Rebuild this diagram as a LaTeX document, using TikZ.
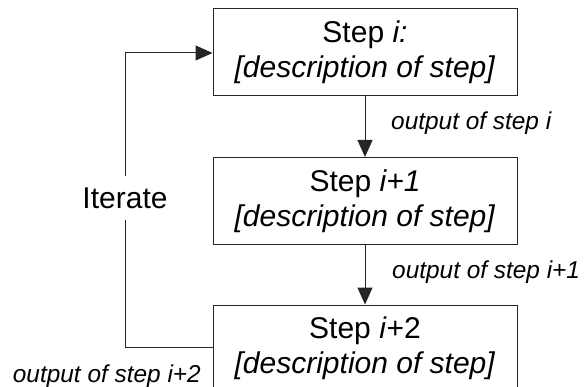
\documentclass[tikz,border=0pt]{standalone}
\usepackage{fontspec}
\setmainfont{Liberation Sans}
\usetikzlibrary{arrows.meta}
\begin{document}
\begin{tikzpicture}[x=1pt,y=-1pt,
  stepbox/.style={draw=black!85, line width=1pt, minimum width=304pt, minimum height=87pt,
    inner sep=0pt, align=center, font=\fontsize{30}{35}\selectfont},
  lbl/.style={inner sep=0pt, font=\fontsize{24.4}{28}\selectfont\itshape},
  conn/.style={draw=black!85, line width=1pt, -{Triangle[length=17pt,width=15pt]}},
  loopline/.style={draw=black!85, line width=1pt}]
\useasboundingbox (0,0) rectangle (585,387);
\fill[white] (0,0) rectangle (585,387);
\node[stepbox] (s1) at (365,52.5) {Step \textit{i:}\\\textit{[description of step]}};
\node[stepbox] (s2) at (365,201) {Step \textit{i+1}\\\textit{[description of step]}};
\node[stepbox] (s3) at (365,348.5) {Step \textit{i}+2\\\textit{[description of step]}};
\draw[conn] (s1) -- (s2);
\draw[conn] (s2) -- (s3);
\coordinate (lb) at (125,347);
\coordinate (lt) at (125,53);
\draw[conn] (s3.west |- lb) -- (lb) -- (lt) -- (s1.west |- lt);
\node[fill=white, inner sep=0pt, minimum height=44pt, font=\fontsize{30}{35}\selectfont] (it) at (125,198) {Iterate};
\node[lbl, anchor=base west] (o1) at (391,130) {output of step i};
\node[lbl, anchor=base west] (o2) at (392,278) {output of step i+1};
\node[lbl, anchor=base east] (o3) at (201,382) {output of step i+2};
\end{tikzpicture}
\end{document}
